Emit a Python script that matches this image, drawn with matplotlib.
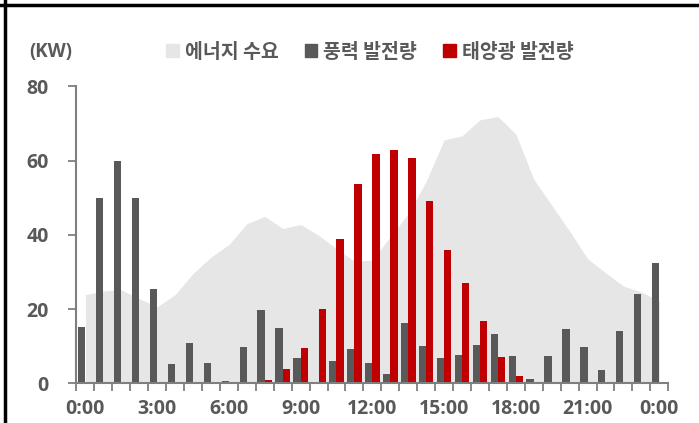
import numpy as np
import matplotlib.pyplot as plt
from matplotlib.patches import Patch
from matplotlib.lines import Line2D

plt.rcParams['font.family'] = ['Noto Sans CJK KR', 'DejaVu Sans']

# 45-minute slots from 0:00 to 24:00
slots = np.arange(33)
tick_labels = ['0:00', '3:00', '6:00', '9:00', '12:00', '15:00', '18:00', '21:00', '0:00']

demand = [23.9, 24.9, 25.2, 22.8, 20.6, 23.9, 29.6, 34.0, 37.4, 43.0, 45.0,
          41.7, 42.8, 39.9, 36.3, 32.9, 33.2, 39.5, 45.7, 54.4, 65.6, 66.7,
          71.0, 71.9, 67.2, 55.0, 48.0, 41.0, 33.6, 29.8, 26.2, 24.6, 22.2]
wind = [15.2, 50.0, 60.0, 50.0, 25.4, 5.2, 10.9, 5.4, 0.6, 9.8, 19.7,
        14.9, 6.7, 0.3, 6.1, 9.2, 5.4, 2.5, 16.2, 10.0, 6.9, 7.6,
        10.2, 13.3, 7.4, 1.2, 7.4, 14.7, 9.7, 3.6, 14.0, 24.0, 32.5]
solar = [0, 0, 0, 0, 0, 0, 0, 0, 0, 0, 0.9,
         3.8, 9.4, 20.0, 38.8, 53.8, 61.7, 63.0, 60.6, 49.0, 35.8, 26.9,
         16.9, 7.0, 1.9, 0, 0, 0, 0, 0, 0, 0, 0]

c_demand = '#e6e6e6'
c_wind = '#595959'
c_solar = '#c00000'
c_text = '#595959'
num_font = ['Open Sans', 'DejaVu Sans']

fig = plt.figure(figsize=(6.99, 4.23), dpi=100)
ax = fig.add_axes([0.1094, 0.0939, 0.8466, 0.7017])

w = 0.407
ax.fill_between(slots, demand, 0, color=c_demand, lw=0, zorder=1)
ax.bar(slots - w / 2, wind, width=w, color=c_wind, zorder=2)
ax.bar(slots + w / 2, solar, width=w, color=c_solar, zorder=2)

ax.set_xlim(-0.5, 32.5)
ax.set_ylim(0, 80)
ax.set_yticks([0, 20, 40, 60, 80])
ax.set_xticks(slots[::4])
ax.set_xticklabels(tick_labels)
ax.set_xticks(np.arange(-0.5, 33), minor=True)

for s in ['top', 'right']:
    ax.spines[s].set_visible(False)
for s in ['left', 'bottom']:
    ax.spines[s].set_color('#7f7f7f')
    ax.spines[s].set_linewidth(1.5)

ax.tick_params(axis='x', which='major', length=0, pad=11, labelsize=14,
               labelcolor=c_text)
ax.tick_params(axis='x', which='minor', length=6, width=1.3, color='#7f7f7f',
               direction='out')
ax.tick_params(axis='y', length=6, width=1.3, color='#7f7f7f', pad=14,
               labelsize=14, labelcolor=c_text)
for lab in ax.get_xticklabels() + ax.get_yticklabels():
    lab.set_family(num_font)
    lab.set_fontweight('bold')

fig.text(0.042, 0.876, '(KW)', fontsize=13.5, color=c_text, family=num_font,
         fontweight='bold', va='center')

handles = [Patch(color=c_demand), Patch(color=c_wind), Patch(color=c_solar)]
names = ['에너지 수요', '풍력 발전량', '태양광 발전량']
leg = fig.legend(handles, names, ncol=3, loc='center left',
                 bbox_to_anchor=(0.213, 0.877), frameon=False, fontsize=14,
                 handlelength=0.65, handleheight=0.65, handletextpad=0.3,
                 columnspacing=1.35, labelcolor=c_text)
for t in leg.get_texts():
    t.set_fontweight('bold')

# table border lines from the source document
fig.add_artist(Line2D([0, 1], [0.988, 0.988], color='black', lw=2.5))
fig.add_artist(Line2D([0.0072, 0.0072], [0, 1], color='black', lw=2.5))

fig.savefig('out.png', dpi=100)
